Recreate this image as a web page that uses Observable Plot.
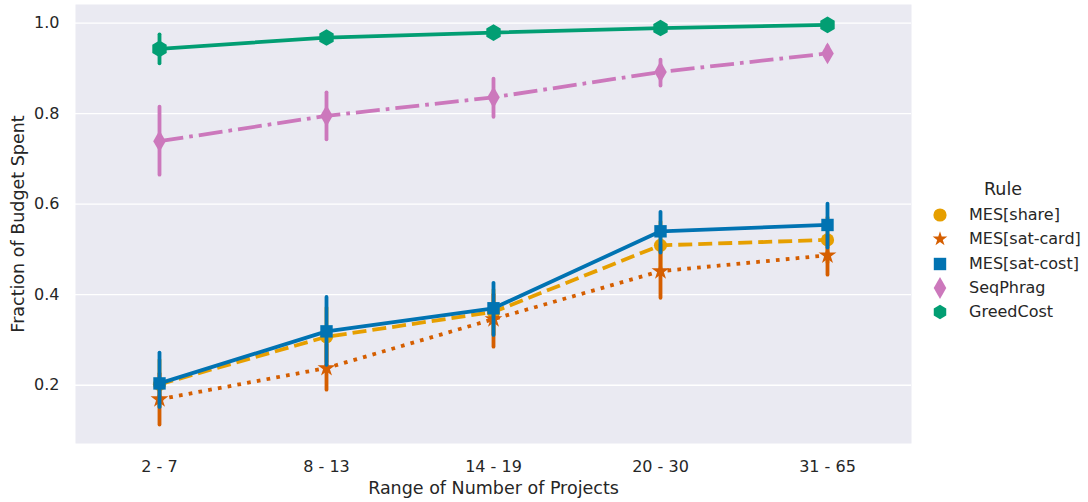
<!DOCTYPE html>
<html><head><meta charset="utf-8">
<script src="https://cdn.jsdelivr.net/npm/d3@7"></script>
<script src="https://cdn.jsdelivr.net/npm/@observablehq/plot@0.6"></script>
<style>
body{margin:0;background:#fff;font-family:"DejaVu Sans",sans-serif;}
#wrap{position:relative;width:1088px;height:502px;}
.lg{position:absolute;font-size:16px;color:#262626;white-space:nowrap;line-height:1;}
#legsvg{position:absolute;left:0;top:0;}
</style></head><body><div id="wrap"></div>
<script>
const categories = ["2 - 7", "8 - 13", "14 - 19", "20 - 30", "31 - 65"];
const rules = ["MES[share]", "MES[sat-card]", "MES[sat-cost]", "SeqPhrag", "GreedCost"];
const colors = ["#e69f00", "#d55e00", "#0173b2", "#cc78bc", "#029e73"];
const symbols = ["circle", "star", "square", "diamond", "hexagon"];
const yTicks = [0.2, 0.4, 0.6, 0.8, 1.0];

const shareMean = [0.202, 0.307, 0.362, 0.509, 0.521];
const shareLo   = [0.150, 0.250, 0.310, 0.460, 0.470];
const shareHi   = [0.255, 0.370, 0.410, 0.560, 0.570];

const cardMean = [0.169, 0.238, 0.346, 0.452, 0.487];
const cardLo   = [0.112, 0.189, 0.284, 0.392, 0.443];
const cardHi   = [0.225, 0.290, 0.400, 0.510, 0.530];

const costMean = [0.204, 0.319, 0.370, 0.540, 0.554];
const costLo   = [0.151, 0.244, 0.310, 0.492, 0.503];
const costHi   = [0.271, 0.394, 0.425, 0.582, 0.600];

const phragMean = [0.739, 0.795, 0.836, 0.892, 0.933];
const phragLo   = [0.664, 0.742, 0.792, 0.861, 0.918];
const phragHi   = [0.814, 0.846, 0.876, 0.918, 0.948];

const greedMean = [0.943, 0.968, 0.979, 0.989, 0.996];
const greedLo   = [0.910, 0.961, 0.973, 0.985, 0.993];
const greedHi   = [0.974, 0.975, 0.985, 0.993, 0.998];

const means = [shareMean, cardMean, costMean, phragMean, greedMean];
const los = [shareLo, cardLo, costLo, phragLo, greedLo];
const his = [shareHi, cardHi, costHi, phragHi, greedHi];

const dashes = ["14,6", "3.7,6.2", null, "24,6,3.7,6", null];
const radii = [6.6, 5.6, 7, 6.6, 7.2];
const legendRadii = [6.6, 4.6, 7, 6.6, 7.2];

const rows = rules.flatMap((rule, i) => categories.map((range, j) => ({
  rule, range, mean: means[i][j], lo: los[i][j], hi: his[i][j]
})));

const marks = [
  Plot.frame({fill: "#eaeaf2", stroke: null}),
  Plot.gridY(yTicks, {stroke: "white", strokeOpacity: 1, strokeWidth: 1.3}),
  Plot.axisY(yTicks, {tickSize: 0, tickPadding: 16, tickFormat: d3.format(".1f"), label: null, fontSize: 16, fill: "#262626"}),
  Plot.axisX({tickSize: 0, tickPadding: 17, label: null, fontSize: 16, fill: "#262626"}),
  Plot.text(["Fraction of Budget Spent"], {frameAnchor: "left", rotate: -90, dx: -57, fontSize: 17.5, fill: "#262626", lineAnchor: "middle", textAnchor: "middle"}),
  Plot.text(["Range of Number of Projects"], {frameAnchor: "bottom", dy: 45, fontSize: 17.5, fill: "#262626", lineAnchor: "middle", textAnchor: "middle"})
];
rules.forEach((rule, i) => {
  const d = rows.filter(r => r.rule === rule);
  marks.push(Plot.line(d, {x: "range", y: "mean", stroke: "rule", strokeWidth: 3.8, strokeDasharray: dashes[i] || undefined, strokeLinecap: "butt"}));
  marks.push(Plot.ruleX(d, {x: "range", y1: "lo", y2: "hi", stroke: "rule", strokeWidth: 3.8, strokeLinecap: "round"}));
  marks.push(Plot.dot(d, {x: "range", y: "mean", symbol: "rule", fill: "rule", r: radii[i], stroke: null}));
});

const chart = Plot.plot({
  width: 1088, height: 502,
  marginLeft: 75, marginRight: 177, marginTop: 4, marginBottom: 59,
  style: {fontFamily: "DejaVu Sans", fontSize: "16px", color: "#262626", background: "white"},
  x: {type: "point", domain: categories, padding: 0.5, label: null},
  y: {domain: [0.0713, 1.041], label: null},
  color: {domain: rules, range: colors},
  symbol: {domain: rules, range: symbols},
  marks
});
const wrap = document.getElementById("wrap");
wrap.appendChild(chart);

// legend
const legendY = [215, 239, 264, 288, 312];
const hexagon = {draw(ctx, size) {
  const rx = Math.sqrt(size / Math.PI), ry = rx * Math.sqrt(3) / 2;
  ctx.moveTo(0, rx); ctx.lineTo(ry, rx / 2); ctx.lineTo(ry, -rx / 2);
  ctx.lineTo(0, -rx); ctx.lineTo(-ry, -rx / 2); ctx.lineTo(-ry, rx / 2); ctx.closePath();
}};
const legTypes = [d3.symbolCircle, d3.symbolStar, d3.symbolSquare, d3.symbolDiamond, hexagon];
const ns = "http://www.w3.org/2000/svg";
const lsvg = document.createElementNS(ns, "svg");
lsvg.setAttribute("id", "legsvg");
lsvg.setAttribute("width", 1088); lsvg.setAttribute("height", 502);
rules.forEach((rule, i) => {
  const p = document.createElementNS(ns, "path");
  p.setAttribute("d", d3.symbol(legTypes[i], Math.PI * legendRadii[i] * legendRadii[i])());
  p.setAttribute("transform", `translate(940,${legendY[i]})`);
  p.setAttribute("fill", colors[i]);
  lsvg.appendChild(p);
});
wrap.appendChild(lsvg);
const title = document.createElement("div");
title.className = "lg"; title.style.fontSize = "17.5px";
title.textContent = "Rule";
title.style.left = "984px"; title.style.top = (190 - 9) + "px";
wrap.appendChild(title);
rules.forEach((rule, i) => {
  const t = document.createElement("div");
  t.className = "lg"; t.textContent = rule;
  t.style.left = "969px"; t.style.top = (legendY[i] - 8) + "px";
  wrap.appendChild(t);
});
</script></body></html>
